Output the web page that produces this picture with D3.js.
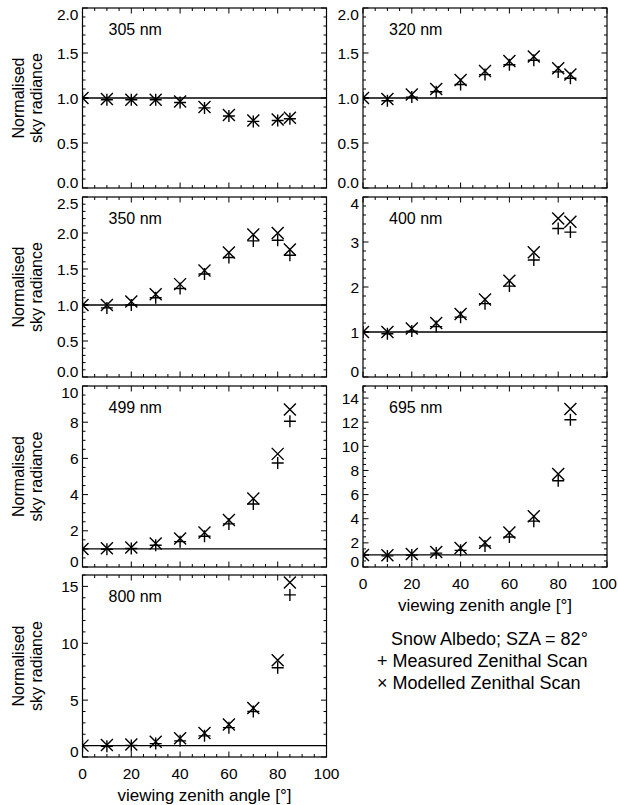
<!DOCTYPE html>
<html>
<head>
<meta charset="utf-8">
<script src="https://cdn.jsdelivr.net/npm/d3@7"></script>
<style>
  body { margin: 0; background: #fff; }
  svg { display: block; }
  text { font-family: "Liberation Sans", Arial, Helvetica, sans-serif; fill: #000; }
</style>
</head>
<body>
<div id="chart"></div>
<script>
// Viewing zenith angles of the scan (degrees)
const angles = [0, 10, 20, 30, 40, 50, 60, 70, 80, 85];

// Normalised sky radiance, measured (+) and modelled (x), per wavelength
const measured305 = [1.00, 0.98, 0.98, 0.98, 0.95, 0.89, 0.80, 0.74, 0.75, 0.77];
const modelled305 = [1.00, 0.99, 0.98, 0.98, 0.96, 0.90, 0.81, 0.75, 0.76, 0.78];

const measured320 = [1.00, 0.97, 1.01, 1.07, 1.15, 1.26, 1.37, 1.42, 1.29, 1.22];
const modelled320 = [1.00, 0.99, 1.04, 1.10, 1.20, 1.30, 1.41, 1.46, 1.33, 1.26];

const measured350 = [1.00, 0.96, 1.00, 1.10, 1.23, 1.43, 1.66, 1.89, 1.90, 1.69];
const modelled350 = [1.00, 1.00, 1.05, 1.15, 1.29, 1.48, 1.73, 1.98, 2.00, 1.77];

const measured400 = [1.00, 0.96, 1.02, 1.12, 1.33, 1.63, 2.02, 2.60, 3.30, 3.22];
const modelled400 = [1.00, 1.00, 1.08, 1.20, 1.40, 1.72, 2.14, 2.77, 3.52, 3.45];

const measured499 = [1.00, 0.98, 1.02, 1.20, 1.40, 1.70, 2.38, 3.48, 5.75, 8.05];
const modelled499 = [1.00, 1.03, 1.08, 1.30, 1.58, 1.90, 2.60, 3.78, 6.25, 8.70];

const measured695 = [1.00, 0.92, 1.00, 1.15, 1.38, 1.75, 2.48, 3.80, 7.15, 12.20];
const modelled695 = [1.00, 0.98, 1.08, 1.25, 1.58, 2.00, 2.85, 4.20, 7.70, 13.10];

const measured800 = [1.00, 0.95, 1.02, 1.18, 1.42, 1.86, 2.58, 4.00, 7.85, 14.25];
const modelled800 = [1.00, 1.05, 1.10, 1.35, 1.64, 2.12, 2.85, 4.30, 8.50, 15.35];

// x tick labels and legend text
const xTicks = [0, 20, 40, 60, 80, 100];
const legendLines = ["Snow Albedo; SZA = 82\u00B0", "+ Measured Zenithal Scan", "\u00D7 Modelled Zenithal Scan"];

const panels = [
  { label: "305 nm", measured: measured305, modelled: modelled305, yMax: 2,   major: 0.5, minor: 0.1, fmt: ".1f", col: 0, row: 0 },
  { label: "320 nm", measured: measured320, modelled: modelled320, yMax: 2,   major: 0.5, minor: 0.1, fmt: ".1f", col: 1, row: 0 },
  { label: "350 nm", measured: measured350, modelled: modelled350, yMax: 2.5, major: 0.5, minor: 0.1, fmt: ".1f", col: 0, row: 1 },
  { label: "400 nm", measured: measured400, modelled: modelled400, yMax: 4,   major: 1,   minor: 0.2, fmt: "d",   col: 1, row: 1 },
  { label: "499 nm", measured: measured499, modelled: modelled499, yMax: 10,  major: 2,   minor: 0.5, fmt: "d",   col: 0, row: 2 },
  { label: "695 nm", measured: measured695, modelled: modelled695, yMax: 15,  major: 2,   minor: 0.5, fmt: "d",   col: 1, row: 2, xAxis: true },
  { label: "800 nm", measured: measured800, modelled: modelled800, yMax: 16,  major: 5,   minor: 1,   fmt: "d",   col: 0, row: 3, xAxis: true }
];

const width = 618, height = 805;
const colLeft = [82.5, 363], panelW = 244;
const rowTop = [8, 197, 386, 575], rowH = [180, 180, 181, 182];
const fs = 15.5;

const svg = d3.select("#chart").append("svg")
  .attr("width", width)
  .attr("height", height);

function range(start, stop, step) {
  const out = [];
  const n = Math.round((stop - start) / step);
  for (let i = 0; i <= n; i++) out.push(+(start + i * step).toFixed(6));
  return out;
}

panels.forEach((p, idx) => {
  const x0 = colLeft[p.col], y0 = rowTop[p.row], h = rowH[p.row];
  const x = d3.scaleLinear().domain([0, 100]).range([x0, x0 + panelW]);
  const y = d3.scaleLinear().domain([0, p.yMax]).range([y0 + h, y0]);
  const g = svg.append("g");

  // clip for markers
  const clipId = "clip" + idx;
  svg.append("clipPath").attr("id", clipId)
    .append("rect").attr("x", x0).attr("y", y0).attr("width", panelW).attr("height", h);

  // minor + major ticks on all four sides (inward)
  const xMinor = range(0, 100, 5);
  const yMinor = range(0, p.yMax, p.minor);
  const yMajor = range(0, Math.floor(p.yMax / p.major + 1e-9) * p.major, p.major);
  const tickPath = [];
  xMinor.forEach(v => {
    const L = v % 20 === 0 ? 5.5 : 3;
    const px = x(v);
    tickPath.push(`M${px},${y0 + h}v${-L}`, `M${px},${y0}v${L}`);
  });
  yMinor.forEach(v => {
    const isMajor = Math.abs(v / p.major - Math.round(v / p.major)) < 1e-6;
    const L = isMajor ? 5.5 : 3;
    const py = y(v);
    tickPath.push(`M${x0},${py}h${L}`, `M${x0 + panelW},${py}h${-L}`);
  });
  g.append("path").attr("d", tickPath.join("")).attr("stroke", "#000").attr("stroke-width", 1).attr("fill", "none");

  // frame
  g.append("rect").attr("x", x0).attr("y", y0).attr("width", panelW).attr("height", h)
    .attr("fill", "none").attr("stroke", "#000").attr("stroke-width", 1.2);

  // y tick labels (kept inside the frame at the ends)
  const fmt = d3.format(p.fmt);
  g.selectAll(".ylab").data(yMajor).enter().append("text")
    .attr("x", x0 - 4)
    .attr("y", d => Math.min(Math.max(y(d), y0 + 6), y0 + h - 6) + fs * 0.36)
    .attr("text-anchor", "end")
    .attr("font-size", fs + "px")
    .text(d => fmt(d));

  // y title on the left column
  if (p.col === 0) {
    const cy = y0 + h / 2;
    const t = g.append("text")
      .attr("transform", `translate(18,${cy}) rotate(-90)`)
      .attr("text-anchor", "middle").attr("font-size", "16px");
    t.append("tspan").attr("x", 0).attr("dy", "0.36em").text("Normalised");
    t.append("tspan").attr("x", 0).attr("dy", "18").text("sky radiance");
  }

  // x axis labels for the bottom panel of each column
  if (p.xAxis) {
    g.selectAll(".xlab").data(xTicks).enter().append("text")
      .attr("x", d => x(d))
      .attr("y", y0 + h + 16 + fs * 0.36)
      .attr("text-anchor", "middle")
      .attr("font-size", fs + "px")
      .text(d => d)
      .each(function() {
        // keep the last label inside the page
        const w = this.getComputedTextLength();
        const cx = +d3.select(this).attr("x");
        if (cx + w / 2 > width - 1) d3.select(this).attr("x", width - 1 - w / 2);
      });
    g.append("text")
      .attr("x", x(50))
      .attr("y", y0 + h + 38 + 17 * 0.36)
      .attr("text-anchor", "middle")
      .attr("font-size", "17px")
      .text("viewing zenith angle [\u00B0]");
  }

  // reference line at 1
  g.append("line")
    .attr("x1", x0).attr("x2", x0 + panelW)
    .attr("y1", y(1)).attr("y2", y(1))
    .attr("stroke", "#000").attr("stroke-width", 1.3);

  // wavelength label
  g.append("text")
    .attr("x", x0 + 26).attr("y", y0 + 21 + 16 * 0.36)
    .attr("font-size", "16px")
    .text(p.label);

  const marks = g.append("g").attr("clip-path", `url(#${clipId})`);
  const s = 6;
  marks.selectAll(".plus").data(p.measured).enter().append("path")
    .attr("d", (d, i) => `M${x(angles[i]) - s},${y(d)}h${2 * s}M${x(angles[i])},${y(d) - s}v${2 * s}`)
    .attr("stroke", "#000").attr("stroke-width", 1.4).attr("fill", "none");
  marks.selectAll(".cross").data(p.modelled).enter().append("path")
    .attr("d", (d, i) => {
      const cx = x(angles[i]), cy = y(d);
      return `M${cx - s},${cy - s}L${cx + s},${cy + s}M${cx - s},${cy + s}L${cx + s},${cy - s}`;
    })
    .attr("stroke", "#000").attr("stroke-width", 1.4).attr("fill", "none");
});

// legend
const lfs = 18;
svg.append("text").attr("x", 391).attr("y", 639 + lfs * 0.36).attr("font-size", lfs + "px").text(legendLines[0]);
svg.append("text").attr("x", 377).attr("y", 661 + lfs * 0.36).attr("font-size", lfs + "px").text(legendLines[1]);
svg.append("text").attr("x", 377).attr("y", 683 + lfs * 0.36).attr("font-size", lfs + "px").text(legendLines[2]);
</script>
</body>
</html>
